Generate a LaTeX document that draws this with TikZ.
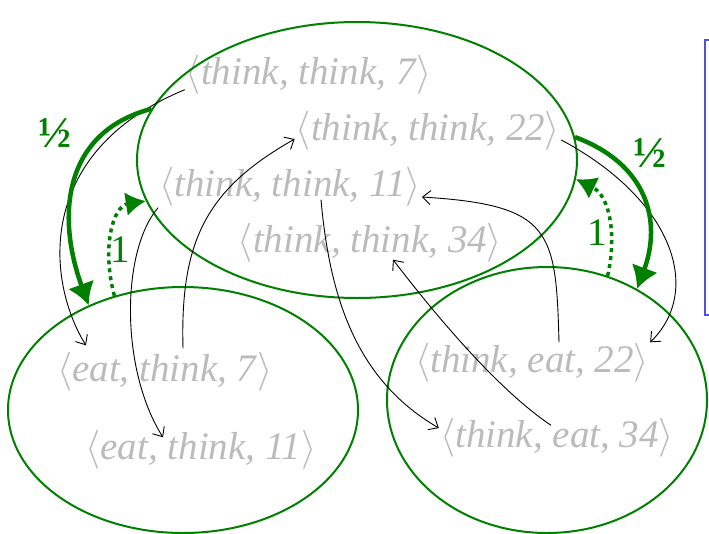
\RequirePackage{fix-cm}
\documentclass[tikz,border=0pt]{standalone}
\usepackage{fontspec}
\setmainfont{Liberation Serif}
\usetikzlibrary{arrows.meta,shapes.geometric}
\definecolor{lumpGreen}{HTML}{008000}
\definecolor{lumpGray}{HTML}{BBBBBB}
\definecolor{lumpBlue}{HTML}{5050E0}
\newcommand{\tup}[3]{$\langle$\textit{#1, #2, #3}$\rangle$}
\tikzset{
  every picture/.style={font=\fontsize{39}{42}\selectfont},
  lump state/.style={text=lumpGray, inner sep=1pt},
  lump class/.style={ellipse, draw=lumpGreen, line width=2pt, inner sep=0pt},
  lump move/.style={-{Straight Barb[length=8pt,width=14pt]}, draw=black,
    line width=0.9pt},
  lump prob/.style={-{Latex[length=22pt,width=28pt]}, draw=lumpGreen,
    line width=4.5pt},
  lump back/.style={-{Latex[length=20pt,width=24pt]}, draw=lumpGreen,
    line width=3.5pt, dash pattern=on 4pt off 4pt},
  lump half/.style={text=lumpGreen, inner sep=0pt,
    font=\fontsize{44}{48}\selectfont\bfseries},
  lump one/.style={text=lumpGreen, inner sep=0pt},
  lump frame/.style={draw=lumpBlue, line width=1.5pt}
}

\begin{document}
\begin{tikzpicture}[x=1pt,y=-1pt]
  \useasboundingbox (0,0) rectangle (709,533);
  % states
  \node[lump state] (tt7)  at (309,75)  {\tup{think}{think}{7}};
  \node[lump state] (tt22) at (428,131) {\tup{think}{think}{22}};
  \node[lump state] (tt11) at (290,187) {\tup{think}{think}{11}};
  \node[lump state] (tt34) at (370,243) {\tup{think}{think}{34}};
  \node[lump state] (et7)  at (165,372) {\tup{eat}{think}{7}};
  \node[lump state] (et11) at (201,450) {\tup{eat}{think}{11}};
  \node[lump state] (te22) at (532,363) {\tup{think}{eat}{22}};
  \node[lump state] (te34) at (557,438) {\tup{think}{eat}{34}};
  % classes
  \node[lump class, minimum width=440pt, minimum height=276pt] (top) at (357,160) {};
  \node[lump class, minimum width=350pt, minimum height=246pt] (left) at (183,410) {};
  \node[lump class, minimum width=320pt, minimum height=266pt] (right) at (547,400) {};
  \draw[lump frame] (705,40) rectangle (740,315);
  % moves
  \draw[lump move] ([yshift=6pt]tt7.south west) .. controls +(-150,62) and +(-40,-65) .. ([xshift=30pt,yshift=6pt]et7.north west);
  \draw[lump move] (tt11.south west) .. controls +(-37,43) and +(-43,-68) .. ([xshift=-38pt,yshift=-8pt]et11.north);
  \draw[lump move] ([xshift=18pt,yshift=3pt]et7.north) .. controls +(-3,-108) and +(-88,50) .. ([yshift=-8pt]tt22.west);
  \draw[lump move] ([xshift=31pt,yshift=8pt]tt11.south) .. controls +(9,101) and +(-81,-47) .. ([yshift=10pt]te34.west);
  \draw[lump move] ([xshift=27pt]te22.north) .. controls +(-3,-112) and +(130,8) .. ([yshift=-10pt]tt11.east);
  \draw[lump move] ([xshift=-6pt,yshift=-8pt]te34.north) .. controls +(-61,-41) and +(27,35) .. ([xshift=23pt,yshift=4pt]tt34.south);
  \draw[lump move] ([yshift=-9pt]tt22.east) .. controls +(112,60) and +(53,-52) .. (te22.north east);
  % lumped transitions
  \draw[lump prob] (top.166) .. controls +(-88,23) and +(-33,-90) .. (left.132);
  \draw[lump back] (left.121) .. controls +(-13,-48) and +(-33,5) .. (top.191);
  \draw[lump prob] (top.6) .. controls +(73,27) and +(25,-67) .. (right.51);
  \draw[lump back] (right.64) .. controls +(9,-37) and +(35,17) .. (top.-5);
  \node[lump half] (hl) at (55,133) {½};
  \node[lump half] (hr) at (650,153) {½};
  \node[lump one] (ol) at (120,250) {1};
  \node[lump one] (or) at (597,233) {1};
\end{tikzpicture}
\end{document}
